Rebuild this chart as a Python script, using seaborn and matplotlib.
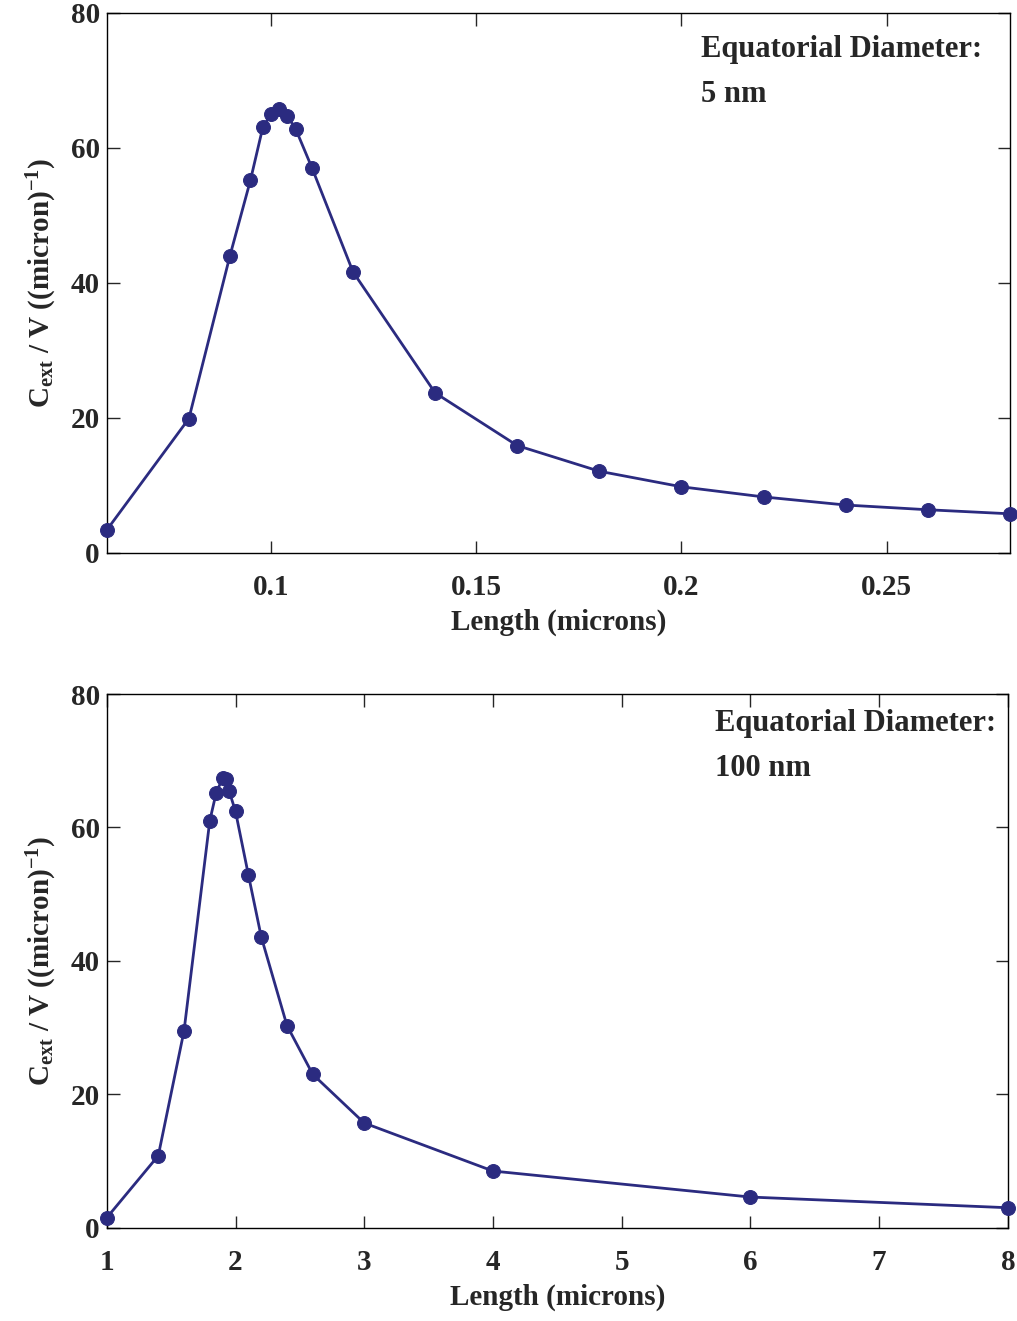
import matplotlib
matplotlib.use("Agg")
import matplotlib.pyplot as plt
import seaborn as sns
import pandas as pd

# Extinction per unit volume vs. rod length, equatorial diameter 5 nm
len_5nm = [0.06, 0.08, 0.09, 0.095, 0.098, 0.10, 0.102, 0.104, 0.106, 0.11,
           0.12, 0.14, 0.16, 0.18, 0.20, 0.22, 0.24, 0.26, 0.28]
cext_5nm = [3.4, 19.9, 44.0, 55.2, 63.0, 65.0, 65.7, 64.7, 62.8, 57.0,
            41.6, 23.7, 15.9, 12.1, 9.8, 8.3, 7.1, 6.4, 5.8]

# Extinction per unit volume vs. rod length, equatorial diameter 100 nm
len_100nm = [1.0, 1.4, 1.6, 1.8, 1.85, 1.9, 1.925, 1.95, 2.0, 2.1,
             2.2, 2.4, 2.6, 3.0, 4.0, 6.0, 8.0]
cext_100nm = [1.5, 10.8, 29.5, 61.0, 65.2, 67.4, 67.3, 65.5, 62.4, 52.9,
              43.6, 30.3, 23.0, 15.7, 8.5, 4.6, 3.0]

x_ticks_top = [0.1, 0.15, 0.2, 0.25]
x_tick_labels_top = ["0.1", "0.15", "0.2", "0.25"]
x_ticks_bottom = [1, 2, 3, 4, 5, 6, 7, 8]
y_ticks = [0, 20, 40, 60, 80]

xlabel = "Length (microns)"
ylabel = r"C$_{\mathrm{ext}}$ / V ((micron)$^{\mathrm{-1}}$)"
notes = [("Equatorial Diameter:", "5 nm"), ("Equatorial Diameter:", "100 nm")]

sns.set_style("ticks")
plt.rcParams["font.family"] = ["Liberation Serif", "DejaVu Serif"]
plt.rcParams["font.weight"] = "bold"
plt.rcParams["mathtext.fontset"] = "custom"
plt.rcParams["mathtext.rm"] = "Liberation Serif:bold"
plt.rcParams["mathtext.it"] = "Liberation Serif:bold"
plt.rcParams["mathtext.default"] = "rm"

line_color = "#2b2b80"
fs = 21

fig = plt.figure(figsize=(10.17, 13.21), dpi=100)
ax1 = fig.add_axes([0.105, 0.5814, 0.888, 0.409])
ax2 = fig.add_axes([0.105, 0.0706, 0.886, 0.4040])

df1 = pd.DataFrame({"length": len_5nm, "cext": cext_5nm})
df2 = pd.DataFrame({"length": len_100nm, "cext": cext_100nm})

for ax, df in ((ax1, df1), (ax2, df2)):
    sns.lineplot(data=df, x="length", y="cext", ax=ax, color=line_color,
                 marker="o", markersize=10, markeredgecolor=line_color,
                 linewidth=2.0, sort=False, clip_on=False, zorder=5)

ax1.set_xlim(0.06, 0.28)
ax1.set_xticks(x_ticks_top)
ax1.set_xticklabels(x_tick_labels_top)
ax2.set_xlim(1, 8)
ax2.set_xticks(x_ticks_bottom)

for ax in (ax1, ax2):
    ax.set_ylim(0, 80)
    ax.set_yticks(y_ticks)
    ax.set_xlabel(xlabel, fontsize=fs, fontweight="bold", labelpad=6)
    ax.set_ylabel(ylabel, fontsize=fs, fontweight="bold", labelpad=8)
    ax.tick_params(direction="in", length=9, width=1.0, top=True, right=True,
                   labelsize=fs)
    ax.tick_params(axis="x", pad=15)
    ax.tick_params(axis="y", pad=5)
    for lab in ax.get_xticklabels() + ax.get_yticklabels():
        lab.set_fontweight("bold")
    for sp in ax.spines.values():
        sp.set_linewidth(1.0)
        sp.set_color("black")

ax1.text(0.658, 0.931, notes[0][0], transform=ax1.transAxes, fontsize=fs + 1,
         fontweight="bold", va="center", ha="left")
ax1.text(0.658, 0.848, notes[0][1], transform=ax1.transAxes, fontsize=fs + 1,
         fontweight="bold", va="center", ha="left")
ax2.text(0.675, 0.944, notes[1][0], transform=ax2.transAxes, fontsize=fs + 1,
         fontweight="bold", va="center", ha="left")
ax2.text(0.675, 0.861, notes[1][1], transform=ax2.transAxes, fontsize=fs + 1,
         fontweight="bold", va="center", ha="left")

fig.savefig("out.png", dpi=100, facecolor="white")
